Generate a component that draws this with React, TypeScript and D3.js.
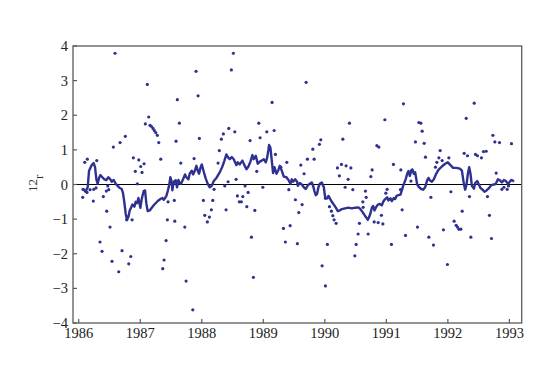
import React from "react";
import * as d3 from "d3";

const xTicks = [1986, 1987, 1988, 1989, 1990, 1991, 1992, 1993];
const yTicks = [-4, -3, -2, -1, 0, 1, 2, 3, 4];
const yLabelSup = "12";
const yLabelMain = "r";

const smoothLine: [number, number][] = [
  [1986.07,-0.12],[1986.11,-0.21],[1986.146,-0.08],[1986.168,0.40],[1986.211,0.56],[1986.243,0.62],[1986.265,0.50],[1986.287,0.15],[1986.308,0.02],[1986.33,0.19],[1986.352,0.27],[1986.384,0.21],[1986.417,0.15],[1986.449,0.13],[1986.482,0.21],[1986.514,0.15],[1986.536,0.08],[1986.569,0.13],[1986.601,0.02],[1986.634,-0.04],[1986.666,-0.10],[1986.699,-0.13],[1986.72,-0.25],[1986.742,-0.52],[1986.764,-0.85],[1986.785,-1.02],[1986.807,-0.94],[1986.829,-0.75],[1986.85,-0.67],[1986.872,-0.58],[1986.905,-0.64],[1986.926,-0.50],[1986.948,-0.54],[1986.97,-0.39],[1987.002,-0.67],[1987.024,-0.42],[1987.056,-0.19],[1987.078,-0.17],[1987.10,-0.56],[1987.121,-0.77],[1987.154,-0.75],[1987.187,-0.67],[1987.219,-0.60],[1987.262,-0.52],[1987.295,-0.46],[1987.327,-0.42],[1987.36,-0.39],[1987.382,-0.44],[1987.403,-0.39],[1987.425,-0.33],[1987.447,-0.19],[1987.468,-0.04],[1987.49,0.21],[1987.512,0.08],[1987.522,-0.17],[1987.533,-0.04],[1987.555,0.10],[1987.577,0.12],[1987.598,-0.08],[1987.62,0.13],[1987.642,0.04],[1987.663,0.02],[1987.696,0.15],[1987.728,0.29],[1987.75,0.21],[1987.783,0.15],[1987.804,0.31],[1987.837,0.40],[1987.859,0.29],[1987.891,0.42],[1987.913,0.54],[1987.934,0.40],[1987.956,0.31],[1987.978,0.48],[1988.0,0.58],[1988.032,0.37],[1988.065,0.17],[1988.097,0.02],[1988.13,-0.08],[1988.162,-0.04],[1988.195,0.10],[1988.238,0.19],[1988.292,0.35],[1988.335,0.52],[1988.368,0.69],[1988.40,0.87],[1988.433,0.77],[1988.455,0.73],[1988.487,0.79],[1988.52,0.73],[1988.541,0.64],[1988.563,0.56],[1988.585,0.64],[1988.617,0.58],[1988.661,0.69],[1988.693,0.56],[1988.726,0.44],[1988.758,0.52],[1988.791,0.66],[1988.823,0.85],[1988.845,0.73],[1988.878,0.83],[1988.91,0.60],[1988.943,0.66],[1988.975,0.69],[1989.008,0.73],[1989.04,0.64],[1989.062,0.77],[1989.083,1.00],[1989.094,1.14],[1989.116,1.06],[1989.138,0.69],[1989.159,0.33],[1989.181,0.50],[1989.214,0.31],[1989.246,0.42],[1989.268,0.54],[1989.30,0.40],[1989.333,0.23],[1989.376,0.21],[1989.409,0.13],[1989.441,0.02],[1989.463,0.15],[1989.485,0.08],[1989.517,0.15],[1989.55,0.08],
  [1989.561,-0.04],[1989.593,0.04],[1989.626,0],[1989.659,-0.08],[1989.691,-0.13],[1989.724,-0.02],[1989.756,0.02],[1989.789,0.06],[1989.81,-0.04],[1989.831,-0.19],[1989.853,-0.31],[1989.875,-0.27],[1989.896,-0.08],[1989.918,0.02],[1989.951,0.06],[1989.984,-0.08],[1990.005,-0.37],[1990.038,-0.40],[1990.059,-0.33],[1990.081,-0.40],[1990.114,-0.50],[1990.146,-0.58],[1990.179,-0.67],[1990.211,-0.77],[1990.244,-0.75],[1990.276,-0.71],[1990.33,-0.69],[1990.384,-0.67],[1990.439,-0.69],[1990.493,-0.67],[1990.546,-0.66],[1990.579,-0.71],[1990.602,-0.77],[1990.634,-0.85],[1990.667,-0.94],[1990.699,-1.02],[1990.72,-0.94],[1990.742,-0.83],[1990.764,-0.67],[1990.785,-0.62],[1990.807,-0.75],[1990.829,-0.67],[1990.862,-0.58],[1990.894,-0.56],[1990.927,-0.60],[1990.948,-0.50],[1990.981,-0.42],[1991.013,-0.37],[1991.034,-0.46],[1991.067,-0.40],[1991.089,-0.48],[1991.122,-0.39],[1991.143,-0.42],[1991.165,-0.33],[1991.197,-0.31],[1991.23,-0.29],[1991.252,-0.17],[1991.273,-0.04],[1991.295,0.06],[1991.317,0.17],[1991.339,0.31],[1991.36,0.39],[1991.382,0.25],[1991.404,0.40],[1991.425,0.42],[1991.447,0.31],[1991.469,0.35],[1991.501,0],[1991.533,-0.08],[1991.566,-0.13],[1991.598,-0.15],[1991.631,-0.08],[1991.663,0.12],[1991.685,0.19],[1991.707,0.12],[1991.74,0.08],[1991.772,0.15],[1991.805,0.29],[1991.847,0.42],[1991.902,0.52],[1991.956,0.60],[1992.0,0.64],[1992.042,0.56],[1992.086,0.48],[1992.14,0.48],[1992.195,0.46],[1992.228,0.40],[1992.26,0.02],[1992.281,-0.15],[1992.303,0],[1992.325,0.31],[1992.346,0.50],[1992.368,0.31],[1992.39,-0.04],[1992.423,-0.12],[1992.444,0.04],[1992.477,0.10],[1992.498,0.02],[1992.53,-0.10],[1992.563,-0.15],[1992.595,-0.21],[1992.628,-0.17],[1992.66,-0.12],[1992.704,-0.02],[1992.748,0],[1992.78,0.02],[1992.813,0.15],[1992.846,0.12],[1992.878,0.06],[1992.911,0.13],[1992.943,0.10],[1992.976,0.02],[1993.008,0.08],[1993.029,0.13],[1993.051,0.12],[1993.073,0.08],
];

const observations: [number, number][] = [
  [1986.59,3.79],[1986.098,0.64],[1986.14,0.73],[1986.293,0.69],[1986.563,1.08],[1986.672,1.21],[1986.758,1.39],[1986.888,0.77],[1986.976,0.71],[1987.008,0.52],[1987.062,0.60],[1986.92,0.38],[1987.029,0.35],[1987.115,2.89],[1987.138,1.95],[1987.083,1.75],[1987.159,1.71],[1987.18,1.68],[1987.208,1.62],[1987.229,1.56],[1987.252,1.50],[1987.278,1.42],[1987.301,1.21],[1987.333,0.73],[1986.953,0.02],[1987.603,2.45],[1987.636,1.77],[1987.582,1.25],[1987.659,0.62],[1987.907,3.27],[1987.94,2.56],[1987.961,1.33],[1987.875,0.75],[1988.265,0.62],[1988.286,0.98],[1988.319,1.31],[1988.351,1.46],[1988.439,1.62],[1988.374,-0.04],[1988.428,0.08],
  [1988.514,3.79],[1988.481,3.31],[1989.696,2.95],[1989.143,2.37],[1988.537,1.52],[1988.927,1.77],[1988.948,1.35],[1988.785,1.27],[1989.057,1.52],[1989.176,1.56],[1989.197,0.87],[1989.382,0.64],[1989.285,0.50],[1988.894,0.38],[1989.61,0.56],[1989.717,0.73],[1989.663,0.31],[1989.805,1.02],[1989.826,0.73],[1989.912,1.16],[1989.935,1.29],[1990.205,0.48],[1990.27,0.58],[1990.346,0.54],[1990.423,0.48],[1990.237,0.25],[1990.379,0.15],[1990.293,1.31],[1990.40,1.77],[1990.769,0.42],[1990.748,0.23],[1990.846,1.12],[1990.878,1.08],[1988.558,0.15],
  [1991.278,2.33],[1990.976,1.87],[1991.528,1.79],[1991.561,1.77],[1991.582,1.54],[1991.473,1.23],[1991.615,1.19],[1991.636,0.79],[1991.875,0.98],[1991.854,0.77],[1991.907,0.69],[1991.821,0.64],[1991.798,0.50],[1992.016,0.77],[1992.298,1.91],[1992.428,2.35],[1992.265,0.90],[1992.319,0.83],[1992.449,0.87],[1992.481,0.83],[1992.546,0.77],[1992.579,0.95],[1992.623,0.96],[1992.732,1.42],[1992.764,1.23],[1992.839,1.21],[1993.034,1.18],[1992.785,0.33],[1991.115,0.58],[1991.236,0.42],
  [1986.065,-0.37],[1986.237,-0.48],[1986.40,-0.35],[1986.455,-0.77],[1986.509,-1.23],[1986.346,-1.66],[1986.379,-1.93],[1986.541,-2.22],[1986.65,-2.52],[1986.704,-1.91],[1986.846,-2.08],[1986.813,-2.29],[1986.78,-1.02],[1986.867,-1.02],[1986.488,-0.15],[1986.184,-0.15],[1986.281,-0.10],[1987.452,-0.50],[1987.441,-1.02],[1987.561,-1.06],[1987.42,-1.62],[1987.387,-2.18],[1987.366,-2.43],[1987.724,-1.23],[1987.745,-2.79],[1987.854,-3.62],[1988.026,-0.46],[1988.179,-0.46],[1988.049,-0.89],[1988.091,-1.08],[1988.124,-0.94],[1988.156,-0.73],[1988.20,-0.14],[1988.395,-0.73],[1987.554,-0.46],
  [1988.579,-0.33],[1988.667,-0.35],[1988.611,-0.50],[1988.644,-0.50],[1988.732,-0.64],[1988.753,-0.23],[1988.862,-0.75],[1988.807,-1.52],[1988.839,-2.68],[1988.992,-0.08],[1989.327,-1.27],[1989.436,-1.19],[1989.359,-1.66],[1989.554,-1.71],[1989.522,-0.44],[1989.631,-0.58],[1989.577,-0.81],[1989.415,-0.15],[1989.956,-2.35],[1990.01,-2.93],[1990.042,-1.73],[1990.075,-0.64],[1990.107,-0.77],[1990.13,-0.90],[1990.151,-1.02],[1990.184,-1.12],[1990.01,-0.40],[1990.455,-0.15],[1990.563,-1.12],[1990.541,-1.43],[1990.509,-1.73],[1990.488,-2.06],[1990.704,-1.43],[1990.618,-0.50],[1990.66,-0.19],[1990.672,-0.37],[1990.802,-1.08],[1990.867,-1.10],[1990.943,-1.14],[1990.92,-0.89],[1991.083,-1.73],[1991.257,-0.73],[1991.311,-1.47],[1991.506,-1.23],[1991.691,-1.52],[1991.766,-1.75],[1991.724,-0.37],[1991.928,-1.31],[1991.993,-2.31],[1992.049,-0.21],[1992.102,-1.06],[1992.135,-1.18],[1992.156,-1.23],[1992.179,-1.29],[1992.211,-1.29],[1992.233,-0.77],[1992.351,-0.35],[1992.374,-1.52],[1992.644,-0.35],[1992.676,-0.89],[1992.709,-1.56],[1992.878,-0.14],[1992.911,-0.08],[1992.964,-0.14],[1992.985,-0.04],
  [1986.07,-0.14],[1986.135,-0.23],[1986.244,-0.14],[1986.449,-0.19],[1986.472,-0.04],[1988.704,-0.04],[1990.33,-0.08],[1990.623,-0.66],[1990.992,-0.25],[1991.013,-0.14],[1991.229,-0.15],[1991.42,0.42],[1991.40,0.10],
];

const W = 554;
const H = 365;
const left = 73;
const right = 521.7;
const top = 46;
const bottom = 323;
const ink = "#2f3190";
const frame = "#5a5a5a";
const font = "'Liberation Serif', 'Times New Roman', serif";

export default function App() {
  const x = d3.scaleLinear().domain([1985.907, 1993.2]).range([left, right]);
  const y = d3.scaleLinear().domain([-4, 4]).range([bottom, top]);
  const line = d3
    .line<[number, number]>()
    .x((d) => x(d[0]))
    .y((d) => y(d[1]));

  return (
    <svg
      width={W}
      height={H}
      style={{ position: "absolute", left: 0, top: 0, background: "#fff" }}
    >
      <rect x={0} y={0} width={W} height={H} fill="#fff" />
      <line x1={left} x2={right} y1={y(0)} y2={y(0)} stroke="#000" strokeWidth={1.2} />
      {observations.map((d, i) => (
        <circle key={i} cx={x(d[0])} cy={y(d[1])} r={1.6} fill={ink} />
      ))}
      <path d={line(smoothLine) || ""} fill="none" stroke={ink} strokeWidth={2.4} strokeLinejoin="round" />
      <rect x={left} y={top} width={right - left} height={bottom - top} fill="none" stroke={frame} strokeWidth={1.3} />
      {xTicks.map((t) => (
        <g key={t}>
          <line x1={x(t)} x2={x(t)} y1={bottom} y2={bottom - 4} stroke={frame} strokeWidth={1.2} />
          <text x={x(t)} y={338} textAnchor="middle" fontFamily={font} fontSize={14.5} fill="#222">
            {t}
          </text>
        </g>
      ))}
      {yTicks.map((t) => (
        <g key={t}>
          <line x1={left} x2={left + 4} y1={y(t)} y2={y(t)} stroke={frame} strokeWidth={1.2} />
          <text x={68} y={y(t) + 5} textAnchor="end" fontFamily={font} fontSize={14.5} fill="#222">
            {t < 0 ? "\u2212" + Math.abs(t) : String(t)}
          </text>
        </g>
      ))}
      <text transform="translate(43,192) rotate(-90)" fontFamily={font} fontSize={13} fill="#333">
        <tspan dy={-6}>{yLabelSup}</tspan>
        <tspan dy={6}>{yLabelMain}</tspan>
      </text>
    </svg>
  );
}
